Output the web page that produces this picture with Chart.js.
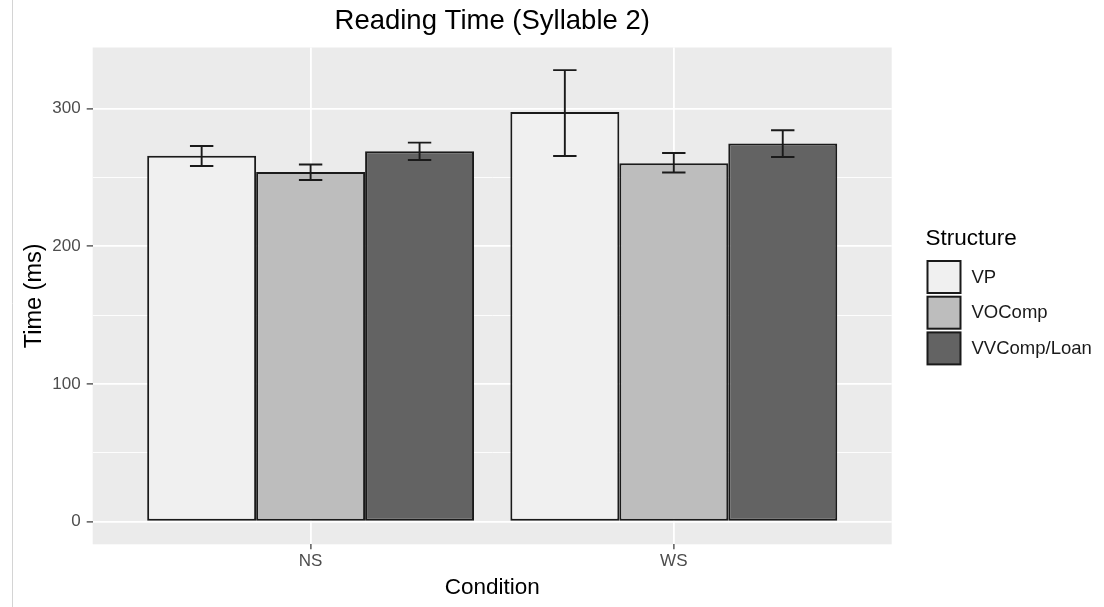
<!DOCTYPE html>
<html>
<head>
<meta charset="utf-8">
<script src="https://cdn.jsdelivr.net/npm/chart.js@4/dist/chart.umd.min.js"></script>
<style>
  html, body { margin: 0; padding: 0; background: #ffffff; }
  #wrap { width: 1104px; height: 607px; }
</style>
</head>
<body>
<div id="wrap"><canvas id="c" width="1104" height="607"></canvas></div>
<script>
// ---- data ----
const categories = ['NS', 'WS'];
const seriesNames = ['VP', 'VOComp', 'VVComp/Loan'];
const vpMean = [265.8, 297.5];
const vpLow = [258.3, 265.6];
const vpHigh = [272.9, 328.0];
const voMean = [254.0, 260.3];
const voLow = [248.2, 253.6];
const voHigh = [259.4, 267.8];
const vvMean = [269.0, 274.6];
const vvLow = [262.7, 264.9];
const vvHigh = [275.3, 284.3];
const yMajorTicks = [0, 100, 200, 300];
const yMinorTicks = [50, 150, 250];

const fills = ['#f0f0f0', '#bdbdbd', '#636363'];
const means = [vpMean, voMean, vvMean];
const lows = [vpLow, voLow, vvLow];
const highs = [vpHigh, voHigh, vvHigh];

Chart.defaults.font.family = "'Liberation Sans', Arial, Helvetica, sans-serif";

const datasets = seriesNames.map((name, i) => ({
  label: name,
  data: categories.map((c, j) => ({ x: j + 1, y: means[i][j] })),
  backgroundColor: fills[i],
  borderColor: '#1a1a1a',
  borderWidth: 2,
  borderSkipped: false,
  barPercentage: 1.0,
  categoryPercentage: 0.9,
  errLow: lows[i],
  errHigh: highs[i]
}));

const panelBg = {
  id: 'panelBg',
  beforeDraw(chart) {
    const { ctx, chartArea: a } = chart;
    ctx.save();
    ctx.fillStyle = '#ffffff';
    ctx.fillRect(0, 0, chart.width, chart.height);
    ctx.strokeStyle = '#d4d4d4';
    ctx.lineWidth = 1;
    ctx.beginPath();
    ctx.moveTo(12.5, 0);
    ctx.lineTo(12.5, chart.height);
    ctx.stroke();
    ctx.fillStyle = '#ebebeb';
    ctx.fillRect(a.left, a.top, a.right - a.left, a.bottom - a.top);
    ctx.restore();
  }
};

const errorBars = {
  id: 'errorBars',
  afterDatasetsDraw(chart) {
    const { ctx } = chart;
    const yScale = chart.scales.y;
    ctx.save();
    ctx.strokeStyle = '#1a1a1a';
    ctx.lineWidth = 1.9;
    chart.data.datasets.forEach((ds, i) => {
      const meta = chart.getDatasetMeta(i);
      meta.data.forEach((bar, j) => {
        const x = bar.x;
        const yl = yScale.getPixelForValue(ds.errLow[j]);
        const yh = yScale.getPixelForValue(ds.errHigh[j]);
        const hw = 11.7;
        ctx.beginPath();
        ctx.moveTo(x, yl); ctx.lineTo(x, yh);
        ctx.moveTo(x - hw, yl); ctx.lineTo(x + hw, yl);
        ctx.moveTo(x - hw, yh); ctx.lineTo(x + hw, yh);
        ctx.stroke();
      });
    });
    ctx.restore();
  }
};

const sideLegend = {
  id: 'sideLegend',
  afterDraw(chart) {
    const { ctx } = chart;
    ctx.save();
    ctx.fillStyle = '#000000';
    ctx.font = "22.5px 'Liberation Sans', Arial, sans-serif";
    ctx.textAlign = 'left';
    ctx.textBaseline = 'middle';
    ctx.fillText('Structure', 925.5, 239);
    const x0 = 927.5, y0 = 261, size = 33, step = 35.7;
    chart.data.datasets.forEach((ds, i) => {
      const y = y0 + i * step;
      ctx.fillStyle = ds.backgroundColor;
      ctx.fillRect(x0, y, size, size - 1);
      ctx.strokeStyle = '#1a1a1a';
      ctx.lineWidth = 2;
      ctx.strokeRect(x0, y, size, size - 1);
      ctx.fillStyle = '#1a1a1a';
      ctx.font = "18.5px 'Liberation Sans', Arial, sans-serif";
      ctx.fillText(ds.label, 971.5, y + size / 2);
    });
    ctx.restore();
  }
};

new Chart(document.getElementById('c'), {
  type: 'bar',
  data: { datasets },
  plugins: [panelBg, errorBars, sideLegend],
  options: {
    responsive: false,
    animation: false,
    devicePixelRatio: 1,
    layout: { padding: { left: 0, right: 212.3, top: 0, bottom: 0 } },
    plugins: {
      legend: { display: false },
      tooltip: { enabled: false },
      title: {
        display: true,
        text: 'Reading Time (Syllable 2)',
        fullSize: false,
        color: '#000000',
        font: { size: 27.5, weight: 'normal' },
        padding: { top: 5, bottom: 9.5 }
      }
    },
    scales: {
      x: {
        type: 'linear',
        min: 0.4,
        max: 2.6,
        offset: false,
        afterFit(scale) { scale.height = 62.7; },
        afterBuildTicks(scale) {
          scale.ticks = categories.map((c, j) => ({ value: j + 1 }));
        },
        ticks: {
          autoSkip: false,
          maxRotation: 0,
          color: '#4d4d4d',
          font: { size: 17 },
          padding: 2,
          callback: (v) => categories[Math.round(v) - 1]
        },
        grid: {
          offset: false,
          color: '#ffffff',
          lineWidth: 1.8,
          tickColor: '#333333',
          tickLength: 5,
          tickWidth: 1.2
        },
        border: { display: false },
        title: {
          display: true,
          text: 'Condition',
          color: '#000000',
          font: { size: 22.5 },
          padding: { top: 0, bottom: 5.8 }
        }
      },
      y: {
        min: -16.4,
        max: 344.4,
        afterFit(scale) { scale.width = 92.7; },
        afterBuildTicks(scale) {
          scale.ticks = yMajorTicks.concat(yMinorTicks).sort((a, b) => a - b).map(v => ({ value: v }));
        },
        ticks: {
          color: '#4d4d4d',
          font: { size: 17 },
          padding: 6,
          callback: (v) => yMajorTicks.includes(v) ? String(v) : ''
        },
        grid: {
          color: '#ffffff',
          lineWidth: (ctx) => (ctx.tick && yMajorTicks.includes(ctx.tick.value)) ? 1.8 : 0.9,
          tickColor: (ctx) => (ctx.tick && yMajorTicks.includes(ctx.tick.value)) ? '#333333' : 'rgba(0,0,0,0)',
          tickLength: 6,
          tickWidth: 1.2
        },
        border: { display: false },
        title: {
          display: true,
          text: 'Time (ms)',
          color: '#000000',
          font: { size: 23.5 },
          padding: { top: 20, bottom: 0 }
        }
      }
    }
  }
});
</script>
</body>
</html>
